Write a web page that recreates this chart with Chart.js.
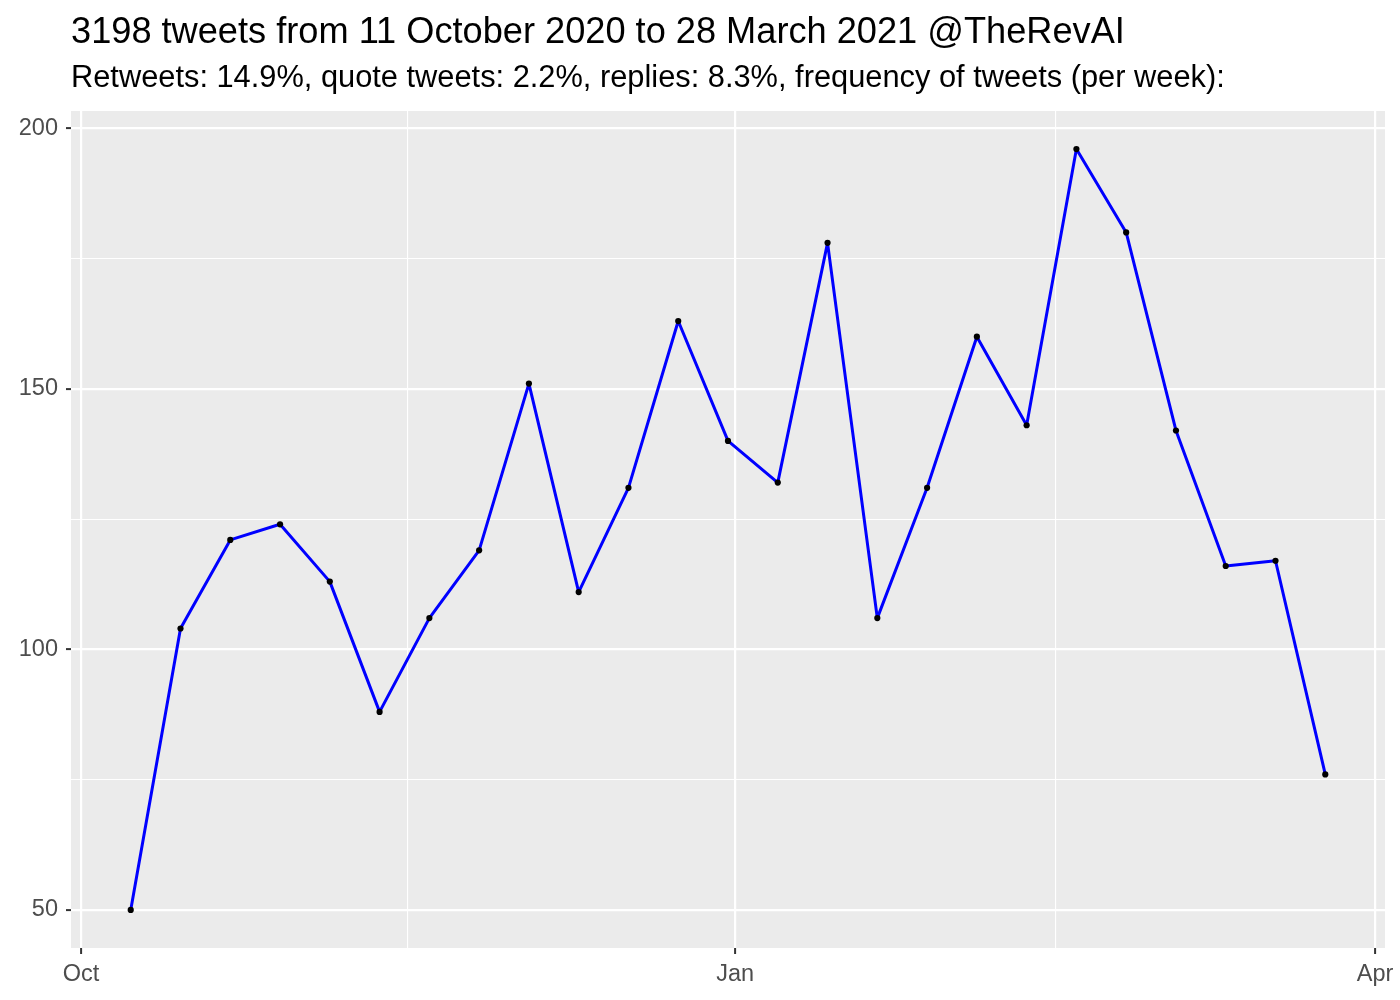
<!DOCTYPE html>
<html>
<head>
<meta charset="utf-8">
<script src="https://cdn.jsdelivr.net/npm/chart.js@4/dist/chart.umd.min.js"></script>
<style>
  html, body { margin: 0; padding: 0; background: #fff; }
  #wrap { width: 1400px; height: 1000px; }
</style>
</head>
<body>
<div id="wrap"><canvas id="tweetsChart" width="1400" height="1000"></canvas></div>
<script>
// weekly tweet counts
const weekDates = [
    "2020-10-08", "2020-10-15", "2020-10-22", "2020-10-29",
    "2020-11-05", "2020-11-12", "2020-11-19", "2020-11-26",
    "2020-12-03", "2020-12-10", "2020-12-17", "2020-12-24", "2020-12-31",
    "2021-01-07", "2021-01-14", "2021-01-21", "2021-01-28",
    "2021-02-04", "2021-02-11", "2021-02-18", "2021-02-25",
    "2021-03-04", "2021-03-11", "2021-03-18", "2021-03-25"
];
const tweetCounts = [50, 104, 121, 124, 113, 88, 106, 119, 151, 111, 131, 163, 140,
    132, 178, 106, 131, 160, 143, 196, 180, 142, 116, 117, 76];

const xTickDates = ["2020-10-01", "2021-01-01", "2021-04-01"];
const xTickLabels = ["Oct", "Jan", "Apr"];
const xMinorDates = ["2020-11-16", "2021-02-15"];
const yMajorTicks = [50, 100, 150, 200];
const yMinorTicks = [75, 125, 175];

const titleText = "3198 tweets from 11 October 2020 to 28 March 2021 @TheRevAI";
const subtitleText = "Retweets: 14.9%, quote tweets: 2.2%, replies: 8.3%, frequency of tweets (per week):";

// days since 1 Oct 2020 (linear x axis, no date adapter needed)
const origin = Date.UTC(2020, 9, 1);
function dayNum(s) {
    let p = s.split("-").map(Number);
    return (Date.UTC(p[0], p[1] - 1, p[2]) - origin) / 86400000;
}

const points = weekDates.map((d, i) => ({ x: dayNum(d), y: tweetCounts[i] }));
const xMajor = xTickDates.map(dayNum);
const xMinor = xMinorDates.map(dayNum);

// ggplot style 5% expansion
const xs = points.map(p => p.x);
const xSpan = Math.max(...xs) - Math.min(...xs);
const xMin = Math.min(...xs) - xSpan * 0.05;
const xMax = Math.max(...xs) + xSpan * 0.05;
const ySpan = Math.max(...tweetCounts) - Math.min(...tweetCounts);
const yMin = Math.min(...tweetCounts) - ySpan * 0.05;
const yMax = Math.max(...tweetCounts) + ySpan * 0.05;

const FONT = "'Liberation Sans', Arial, Helvetica, sans-serif";

const panelBg = {
    id: "panelBg",
    beforeDraw(chart) {
        let a = chart.chartArea, ctx = chart.ctx;
        ctx.save();
        ctx.fillStyle = "#EBEBEB";
        ctx.fillRect(a.left, a.top, a.right - a.left, a.bottom - a.top);
        ctx.restore();
    },
    afterDraw(chart) {
        let a = chart.chartArea, ctx = chart.ctx;
        ctx.save();
        ctx.fillStyle = "#000";
        ctx.textBaseline = "alphabetic";
        ctx.textAlign = "left";
        ctx.font = "36.2px " + FONT;
        ctx.fillText(titleText, a.left, 43);
        ctx.font = "30.8px " + FONT;
        ctx.fillText(subtitleText, a.left, 87);
        ctx.restore();
    }
};

new Chart(document.getElementById("tweetsChart"), {
    type: "line",
    data: {
        datasets: [{
            data: points,
            borderColor: "#0000FF",
            borderWidth: 3,
            borderJoinStyle: "round",
            borderCapStyle: "round",
            pointRadius: 3.1,
            pointBackgroundColor: "#000",
            pointBorderWidth: 0,
            tension: 0
        }]
    },
    options: {
        responsive: false,
        animation: false,
        layout: { padding: { top: 111, right: 15, left: 0, bottom: 0 } },
        plugins: { legend: { display: false }, tooltip: { enabled: false } },
        scales: {
            x: {
                type: "linear",
                min: xMin,
                max: xMax,
                afterBuildTicks(scale) {
                    scale.ticks = xMajor.concat(xMinor).sort((a, b) => a - b).map(v => ({ value: v }));
                },
                afterFit(scale) { scale.height = 52; },
                ticks: {
                    autoSkip: false,
                    maxRotation: 0,
                    padding: 6,
                    color: "#4D4D4D",
                    font: { family: FONT, size: 23.5 },
                    callback(v) {
                        let i = xMajor.indexOf(v);
                        return i >= 0 ? xTickLabels[i] : "";
                    }
                },
                grid: {
                    color: "#FFFFFF",
                    lineWidth: c => xMajor.includes(c.tick.value) ? 2.2 : 1.1,
                    drawTicks: true,
                    tickLength: 6,
                    tickWidth: 2,
                    tickColor: c => xMajor.includes(c.tick.value) ? "#333333" : "rgba(0,0,0,0)"
                },
                border: { display: false }
            },
            y: {
                min: yMin,
                max: yMax,
                afterBuildTicks(scale) {
                    scale.ticks = yMajorTicks.concat(yMinorTicks).sort((a, b) => a - b).map(v => ({ value: v }));
                },
                afterFit(scale) { scale.width = 71; },
                ticks: {
                    autoSkip: false,
                    padding: 8,
                    color: "#4D4D4D",
                    font: { family: FONT, size: 23.5 },
                    callback: v => yMajorTicks.includes(v) ? String(v) : ""
                },
                grid: {
                    color: "#FFFFFF",
                    lineWidth: c => yMajorTicks.includes(c.tick.value) ? 2.2 : 1.1,
                    drawTicks: true,
                    tickLength: 5,
                    tickWidth: 2,
                    tickColor: c => yMajorTicks.includes(c.tick.value) ? "#333333" : "rgba(0,0,0,0)"
                },
                border: { display: false }
            }
        }
    },
    plugins: [panelBg]
});
</script>
</body>
</html>
